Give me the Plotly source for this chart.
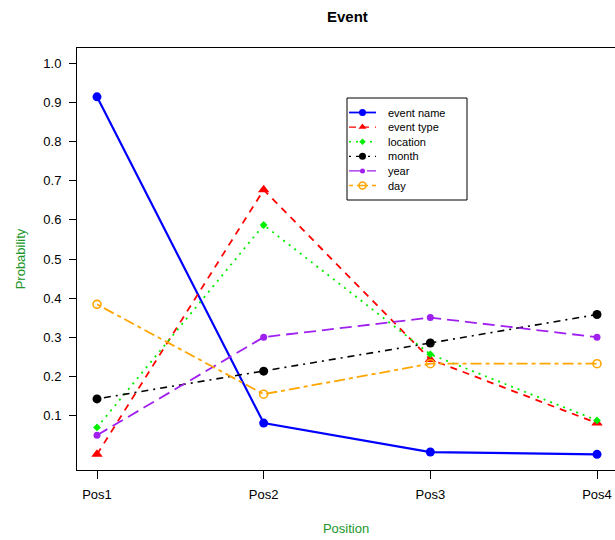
import plotly.graph_objects as go

# Positions along the x axis
positions = ["Pos1", "Pos2", "Pos3", "Pos4"]

# Probability of each field at each position
event_name = [0.915, 0.080, 0.006, 0.000]
event_type = [0.000, 0.677, 0.243, 0.080]
location = [0.069, 0.587, 0.256, 0.087]
month = [0.142, 0.213, 0.285, 0.358]
year = [0.049, 0.300, 0.350, 0.300]
day = [0.384, 0.154, 0.232, 0.232]

y_ticks = [0.1, 0.2, 0.3, 0.4, 0.5, 0.6, 0.7, 0.8, 0.9, 1.0]
y_ticktext = ["0.1", "0.2", "0.3", "0.4", "0.5", "0.6", "0.7", "0.8", "0.9", "1.0"]

FONT = "Liberation Sans, Arial, Helvetica, sans-serif"
AXIS_GREEN = "#22962a"

W, H = 615, 540
M_L, M_R, M_T, M_B = 77, 0, 48, 70

# name, values, colour, dash, line width, marker, legend marker size
series = [
    ("event name", event_name, "#0000ff", "solid", 2.2,
     dict(symbol="circle", size=9), 7),
    ("event type", event_type, "#ff0000", "7px,6px", 1.8,
     dict(symbol="triangle-up", size=10), 7),
    ("location", location, "#00ee00", "2px,5px", 1.8,
     dict(symbol="diamond", size=6), 5),
    ("month", month, "#000000", "2px,5px,7px,5px", 1.6,
     dict(symbol="circle", size=9), 7),
    ("year", year, "#a020f0", "12px,6px", 1.8,
     dict(symbol="circle", size=7), 5),
    ("day", day, "#ffa500", "4px,4px,11px,4px", 1.8,
     dict(symbol="circle-open", size=8, line=dict(width=1.6)), 7),
]

fig = go.Figure()
for name, vals, color, dash, lw, marker, _ in series:
    fig.add_trace(go.Scatter(
        x=positions, y=vals, name=name, mode="lines+markers",
        line=dict(color=color, dash=dash, width=lw),
        marker=dict(color=color, **marker),
        showlegend=False,
    ))

# Key box drawn on an overlay axis pair measured in pixels of the plot area
KEY_X0, KEY_X1 = 347, 467
KEY_Y0, KEY_Y1 = 98, 200
SAMPLE_X0, SAMPLE_X1 = 349, 376
TEXT_X = 386
ROW0, ROW_STEP = 112.5, 14.6

annotations = [
    dict(text="<b>Event</b>", x=0.502, y=1 + 32 / (H - M_T - M_B),
         xref="paper", yref="paper", xanchor="center",
         yanchor="middle", showarrow=False,
         font=dict(size=15, family=FONT)),
]

for i, (name, _, color, dash, lw, marker, key_size) in enumerate(series):
    row_y = ROW0 + i * ROW_STEP
    fig.add_trace(go.Scatter(
        x=[SAMPLE_X0, SAMPLE_X1], y=[row_y, row_y], mode="lines",
        line=dict(color=color, dash=dash, width=lw * 0.8),
        xaxis="x2", yaxis="y2", showlegend=False, hoverinfo="skip",
    ))
    key_marker = dict(marker)
    key_marker["size"] = key_size
    fig.add_trace(go.Scatter(
        x=[(SAMPLE_X0 + SAMPLE_X1) / 2], y=[row_y], mode="markers",
        marker=dict(color=color, **key_marker),
        xaxis="x2", yaxis="y2", showlegend=False, hoverinfo="skip",
    ))
    annotations.append(dict(
        text=name, x=TEXT_X, y=row_y, xref="x2", yref="y2",
        xanchor="left", yanchor="middle", showarrow=False,
        font=dict(size=11, family=FONT),
    ))

fig.update_layout(
    width=W, height=H,
    margin=dict(l=M_L, r=M_R, t=M_T, b=M_B),
    paper_bgcolor="white", plot_bgcolor="white",
    font=dict(family=FONT, size=13, color="black"),
    showlegend=False,
    annotations=annotations,
    shapes=[dict(type="rect", xref="x2", yref="y2",
                 x0=KEY_X0, x1=KEY_X1, y0=KEY_Y0, y1=KEY_Y1,
                 line=dict(color="black", width=1), layer="below")],
    xaxis=dict(
        type="category", range=[-0.12, 3.108],
        showgrid=False, zeroline=False,
        showline=True, mirror=True, linecolor="black", linewidth=1,
        ticks="outside", ticklen=8, tickcolor="black",
        ticklabelstandoff=4,
        title=dict(text="Position", font=dict(color=AXIS_GREEN, size=13),
                   standoff=23),
    ),
    yaxis=dict(
        range=[-0.04, 1.04],
        tickvals=y_ticks, ticktext=y_ticktext,
        showgrid=False, zeroline=False,
        showline=True, mirror=False, linecolor="black", linewidth=1,
        ticks="outside", ticklen=7, tickcolor="black",
        ticklabelstandoff=5,
        title=dict(text="Probability", font=dict(color=AXIS_GREEN, size=13),
                   standoff=14),
    ),
    xaxis2=dict(overlaying="x", anchor="y2", range=[M_L, W - M_R],
                visible=False, fixedrange=True),
    yaxis2=dict(overlaying="y", anchor="x2", range=[H - M_B, M_T],
                visible=False, fixedrange=True),
)

fig.write_html("out.html")
